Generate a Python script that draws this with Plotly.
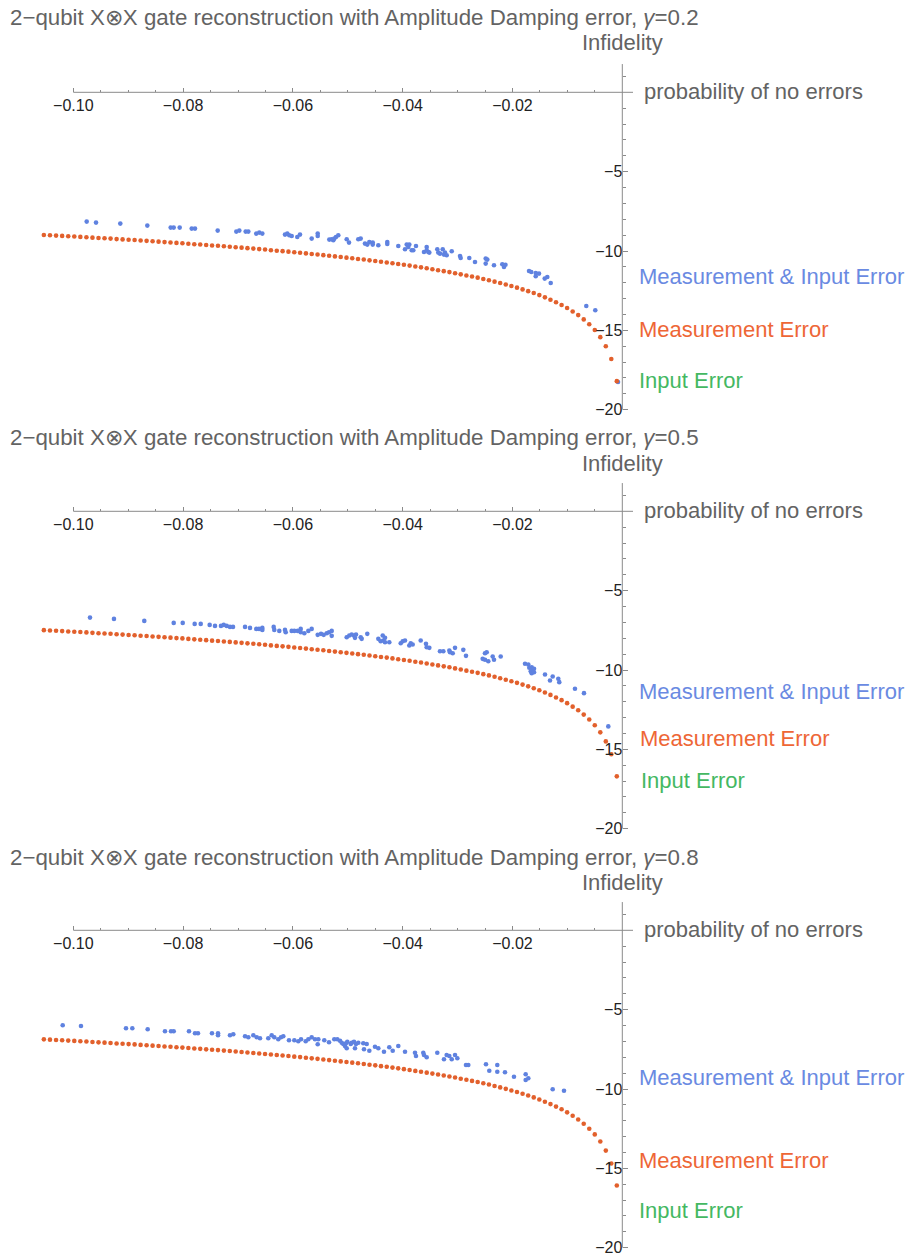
import numpy as np
import plotly.graph_objects as go

# ---------------- data ----------------
gammas = ["0.2", "0.5", "0.8"]

# probability of no errors (x axis shows its natural log)
p_no_error = [
    0.900, 0.901, 0.902, 0.903, 0.904, 0.905, 0.906, 0.907, 0.908, 0.909,
    0.910, 0.911, 0.912, 0.913, 0.914, 0.915, 0.916, 0.917, 0.918, 0.919,
    0.920, 0.921, 0.922, 0.923, 0.924, 0.925, 0.926, 0.927, 0.928, 0.929,
    0.930, 0.931, 0.932, 0.933, 0.934, 0.935, 0.936, 0.937, 0.938, 0.939,
    0.940, 0.941, 0.942, 0.943, 0.944, 0.945, 0.946, 0.947, 0.948, 0.949,
    0.950, 0.951, 0.952, 0.953, 0.954, 0.955, 0.956, 0.957, 0.958, 0.959,
    0.960, 0.961, 0.962, 0.963, 0.964, 0.965, 0.966, 0.967, 0.968, 0.969,
    0.970, 0.971, 0.972, 0.973, 0.974, 0.975, 0.976, 0.977, 0.978, 0.979,
    0.980, 0.981, 0.982, 0.983, 0.984, 0.985, 0.986, 0.987, 0.988, 0.989,
    0.990, 0.991, 0.992, 0.993, 0.994, 0.995, 0.996, 0.997, 0.998, 0.999,
]

# Measurement Error (orange) log-infidelity per gamma
meas_err_g02 = [
    -8.99, -9.01, -9.03, -9.05, -9.07, -9.09, -9.11, -9.13, -9.16, -9.18,
    -9.20, -9.22, -9.25, -9.27, -9.29, -9.31, -9.34, -9.36, -9.39, -9.41,
    -9.44, -9.46, -9.49, -9.51, -9.54, -9.57, -9.59, -9.62, -9.65, -9.67,
    -9.70, -9.73, -9.76, -9.79, -9.82, -9.85, -9.88, -9.91, -9.95, -9.98,
    -10.01, -10.04, -10.08, -10.11, -10.15, -10.19, -10.22, -10.26, -10.30, -10.34,
    -10.38, -10.42, -10.46, -10.50, -10.54, -10.59, -10.63, -10.68, -10.72, -10.77,
    -10.82, -10.87, -10.92, -10.98, -11.03, -11.09, -11.15, -11.21, -11.27, -11.33,
    -11.40, -11.47, -11.54, -11.61, -11.68, -11.76, -11.84, -11.93, -12.02, -12.11,
    -12.21, -12.31, -12.42, -12.53, -12.65, -12.78, -12.92, -13.07, -13.23, -13.40,
    -13.59, -13.81, -14.04, -14.31, -14.62, -14.98, -15.43, -16.00, -16.81, -18.20,
]
meas_err_g05 = [
    -7.49, -7.51, -7.53, -7.55, -7.57, -7.59, -7.61, -7.63, -7.66, -7.68,
    -7.70, -7.72, -7.75, -7.77, -7.79, -7.81, -7.84, -7.86, -7.89, -7.91,
    -7.94, -7.96, -7.99, -8.01, -8.04, -8.07, -8.09, -8.12, -8.15, -8.17,
    -8.20, -8.23, -8.26, -8.29, -8.32, -8.35, -8.38, -8.41, -8.45, -8.48,
    -8.51, -8.54, -8.58, -8.61, -8.65, -8.69, -8.72, -8.76, -8.80, -8.84,
    -8.88, -8.92, -8.96, -9.00, -9.04, -9.09, -9.13, -9.18, -9.22, -9.27,
    -9.32, -9.37, -9.42, -9.48, -9.53, -9.59, -9.65, -9.71, -9.77, -9.83,
    -9.90, -9.97, -10.04, -10.11, -10.18, -10.26, -10.34, -10.43, -10.52, -10.61,
    -10.71, -10.81, -10.92, -11.03, -11.15, -11.28, -11.42, -11.57, -11.73, -11.90,
    -12.09, -12.31, -12.54, -12.81, -13.12, -13.48, -13.93, -14.50, -15.31, -16.70,
]
meas_err_g08 = [
    -6.87, -6.89, -6.91, -6.93, -6.95, -6.97, -6.99, -7.01, -7.04, -7.06,
    -7.08, -7.10, -7.13, -7.15, -7.17, -7.19, -7.22, -7.24, -7.27, -7.29,
    -7.32, -7.34, -7.37, -7.39, -7.42, -7.45, -7.47, -7.50, -7.53, -7.55,
    -7.58, -7.61, -7.64, -7.67, -7.70, -7.73, -7.76, -7.79, -7.83, -7.86,
    -7.89, -7.92, -7.96, -7.99, -8.03, -8.07, -8.10, -8.14, -8.18, -8.22,
    -8.26, -8.30, -8.34, -8.38, -8.42, -8.47, -8.51, -8.56, -8.60, -8.65,
    -8.70, -8.75, -8.80, -8.86, -8.91, -8.97, -9.03, -9.09, -9.15, -9.21,
    -9.28, -9.35, -9.42, -9.49, -9.56, -9.64, -9.72, -9.81, -9.90, -9.99,
    -10.09, -10.19, -10.30, -10.41, -10.53, -10.66, -10.80, -10.95, -11.11, -11.28,
    -11.47, -11.69, -11.92, -12.19, -12.50, -12.86, -13.31, -13.88, -14.69, -16.08,
]

# Measurement & Input Error (blue): x = log(prob. of no errors), y = log-infidelity
mi_x_g02 = [
    -0.09756, -0.09586, -0.09144, -0.08652, -0.08226, -0.08171, -0.08062, -0.07843, -0.07783, -0.07370,
    -0.07031, -0.06976, -0.06860, -0.06812, -0.06667, -0.06612, -0.06557, -0.06144, -0.06102, -0.06066,
    -0.06022, -0.05920, -0.05871, -0.05658, -0.05548, -0.05548, -0.05337, -0.05293, -0.05264, -0.05246,
    -0.05215, -0.05173, -0.05020, -0.04978, -0.04809, -0.04765, -0.04687, -0.04645, -0.04608, -0.04546,
    -0.04546, -0.04444, -0.04281, -0.04281, -0.04080, -0.03958, -0.03927, -0.03898, -0.03880, -0.03836,
    -0.03807, -0.03758, -0.03612, -0.03563, -0.03563, -0.03534, -0.03515, -0.03370, -0.03352, -0.03321,
    -0.03271, -0.03248, -0.03230, -0.03199, -0.03107, -0.02956, -0.02944, -0.02787, -0.02683, -0.02488,
    -0.02459, -0.02488, -0.02337, -0.02186, -0.02155, -0.02128, -0.01699, -0.01658, -0.01577, -0.01577,
    -0.01517, -0.01413, -0.01366, -0.01304, -0.00656, -0.00492, -0.00078,
]
mi_y_g02 = [
    -8.147, -8.211, -8.273, -8.400, -8.526, -8.526, -8.526, -8.589, -8.589, -8.715,
    -8.778, -8.715, -8.778, -8.778, -8.904, -8.841, -8.904, -8.967, -8.904, -9.011,
    -9.055, -9.118, -8.967, -9.219, -8.904, -9.055, -9.282, -9.263, -9.326, -9.219,
    -9.118, -9.011, -9.263, -9.471, -9.263, -9.219, -9.534, -9.597, -9.433, -9.471,
    -9.597, -9.641, -9.433, -9.559, -9.685, -9.893, -9.597, -9.748, -9.597, -9.956,
    -9.956, -9.685, -10.063, -9.748, -9.956, -10.063, -10.101, -9.893, -10.101, -10.164,
    -9.893, -10.227, -10.101, -10.271, -10.019, -10.315, -10.441, -10.441, -10.693, -10.479,
    -10.542, -10.794, -10.901, -10.838, -11.008, -10.870, -11.260, -11.323, -11.386, -11.594,
    -11.424, -11.739, -11.638, -12.017, -13.466, -13.737, -18.255,
]
mi_x_g05 = [
    -0.09696, -0.09259, -0.08707, -0.08171, -0.08007, -0.07789, -0.07679, -0.07516, -0.07419, -0.07310,
    -0.07260, -0.07206, -0.07146, -0.07091, -0.06872, -0.06781, -0.06667, -0.06617, -0.06557, -0.06557,
    -0.06350, -0.06339, -0.06248, -0.06144, -0.06131, -0.06022, -0.05974, -0.05913, -0.05858, -0.05858,
    -0.05792, -0.05719, -0.05658, -0.05548, -0.05488, -0.05439, -0.05384, -0.05342, -0.05293, -0.05293,
    -0.05020, -0.04973, -0.04929, -0.04887, -0.04851, -0.04869, -0.04765, -0.04747, -0.04645, -0.04444,
    -0.04401, -0.04364, -0.04353, -0.04322, -0.04322, -0.04244, -0.04036, -0.04000, -0.03958, -0.03880,
    -0.03854, -0.03818, -0.03672, -0.03576, -0.03563, -0.03515, -0.03321, -0.03260, -0.03151, -0.03138,
    -0.03089, -0.03047, -0.02896, -0.02847, -0.02501, -0.02470, -0.02543, -0.02501, -0.02441, -0.02361,
    -0.02337, -0.02215, -0.01772, -0.01712, -0.01694, -0.01650, -0.01668, -0.01632, -0.01608, -0.01608,
    -0.01650, -0.01408, -0.01317, -0.01268, -0.01166, -0.01148, -0.00862, -0.00698, -0.00255,
]
mi_y_g05 = [
    -6.698, -6.780, -6.906, -7.031, -7.031, -7.094, -7.094, -7.157, -7.220, -7.220,
    -7.157, -7.220, -7.283, -7.283, -7.283, -7.346, -7.409, -7.409, -7.346, -7.472,
    -7.283, -7.472, -7.535, -7.472, -7.623, -7.535, -7.535, -7.535, -7.409, -7.623,
    -7.686, -7.535, -7.409, -7.786, -7.723, -7.786, -7.686, -7.623, -7.535, -7.849,
    -7.937, -7.830, -7.767, -7.830, -7.767, -7.975, -7.937, -8.038, -7.723, -8.038,
    -8.189, -7.830, -8.145, -7.975, -8.252, -8.252, -8.314, -8.189, -8.145, -8.459,
    -8.314, -8.396, -8.145, -8.352, -8.566, -8.604, -8.818, -8.818, -8.774, -8.881,
    -8.943, -8.604, -8.730, -9.107, -8.943, -8.881, -9.296, -9.358, -9.447, -9.151,
    -9.358, -9.151, -9.610, -9.654, -9.862, -9.824, -10.075, -9.987, -9.925, -10.138,
    -10.201, -10.283, -10.660, -10.409, -10.553, -10.767, -11.182, -11.459, -13.553,
]
mi_x_g08 = [
    -0.10193, -0.09860, -0.09040, -0.08925, -0.08645, -0.08330, -0.08220, -0.08171, -0.07893, -0.07783,
    -0.07729, -0.07474, -0.07364, -0.07364, -0.07146, -0.07086, -0.06872, -0.06812, -0.06721, -0.06659,
    -0.06599, -0.06448, -0.06386, -0.06339, -0.06266, -0.06217, -0.06175, -0.06071, -0.05974, -0.05902,
    -0.05852, -0.05767, -0.05719, -0.05658, -0.05597, -0.05548, -0.05537, -0.05428, -0.05342, -0.05246,
    -0.05191, -0.05142, -0.05111, -0.05082, -0.05051, -0.05033, -0.05009, -0.05020, -0.04947, -0.04929,
    -0.04887, -0.04851, -0.04869, -0.04809, -0.04718, -0.04656, -0.04705, -0.04608, -0.04505, -0.04444,
    -0.04341, -0.04244, -0.04182, -0.04080, -0.03958, -0.03776, -0.03758, -0.03625, -0.03612, -0.03563,
    -0.03370, -0.03248, -0.03199, -0.03151, -0.03107, -0.03047, -0.03005, -0.02847, -0.02805, -0.02483,
    -0.02423, -0.02277, -0.02277, -0.02137, -0.01973, -0.01760, -0.01760, -0.01712, -0.01268, -0.01062,
]
mi_y_g08 = [
    -5.986, -6.030, -6.175, -6.175, -6.238, -6.364, -6.364, -6.364, -6.364, -6.490,
    -6.490, -6.490, -6.490, -6.616, -6.616, -6.553, -6.679, -6.742, -6.616, -6.742,
    -6.805, -6.805, -6.616, -6.742, -6.868, -6.742, -6.679, -6.931, -6.931, -6.994,
    -6.868, -6.994, -6.868, -6.742, -6.868, -7.183, -6.868, -6.931, -7.057, -6.868,
    -6.868, -6.957, -7.083, -7.164, -7.290, -7.120, -7.020, -7.435, -7.164, -7.083,
    -7.020, -7.164, -7.435, -7.083, -7.120, -7.164, -7.498, -7.587, -7.335, -7.435,
    -7.650, -7.372, -7.587, -7.290, -7.650, -7.713, -7.921, -7.713, -7.858, -8.003,
    -7.713, -8.129, -7.858, -7.921, -8.129, -7.858, -8.066, -8.488, -8.488, -8.444,
    -8.847, -8.488, -8.910, -8.948, -9.225, -9.074, -9.433, -9.326, -10.019, -10.107,
]

x_tick_vals = [-0.10, -0.08, -0.06, -0.04, -0.02]
x_tick_text = ["\u22120.10", "\u22120.08", "\u22120.06", "\u22120.04", "\u22120.02"]
x_minor_vals = [-0.095, -0.09, -0.085, -0.075, -0.07, -0.065, -0.055, -0.05, -0.045,
                -0.035, -0.03, -0.025, -0.015, -0.01, -0.005]
y_tick_vals = [-5, -10, -15, -20]
y_tick_text = ["\u22125", "\u221210", "\u221215", "\u221220"]
y_minor_vals = [1, -1, -2, -3, -4, -6, -7, -8, -9, -11, -12, -13, -14, -16, -17, -18, -19]

meas_err = [meas_err_g02, meas_err_g05, meas_err_g08]
mi_x = [mi_x_g02, mi_x_g05, mi_x_g08]
mi_y = [mi_y_g02, mi_y_g05, mi_y_g08]

legend_labels = ["Measurement &amp; Input Error", "Measurement Error", "Input Error"]

# ---------------- layout / styling ----------------
W, H = 908, 1259
PX0 = 622.3          # pixel column of x = 0
SX = 5490.0          # pixels per x unit
SY = 15.87           # pixels per y unit
ZERO_PY = [92.3, 511.3, 930.3]   # pixel row of y = 0 per panel
TOP_PAD, BOT_PAD = 40, 328

BLUE = "#5f82e0"
ORANGE = "#e2602c"
BLUE_TXT = "#6a8ae2"
ORANGE_TXT = "#ee6636"
GREEN_TXT = "#44b862"
GRAY = "#636363"
AXIS_GRAY = "#8a8a8a"
FONT = "Liberation Sans, Arial, Helvetica, sans-serif"

title_py = [17, 437, 857]
infid_py = [43, 463, 882]
legend_pos = [
    [(636.7, 276.7), (636.7, 330), (637.3, 381)],
    [(636.7, 691.7), (637.7, 738.3), (639.3, 780.7)],
    [(636.7, 1077.3), (636.7, 1160), (636.7, 1210.7)],
]
legend_cols = [BLUE_TXT, ORANGE_TXT, GREEN_TXT]

x_log = np.log(np.array(p_no_error))

fig = go.Figure()
layout = dict(
    width=W, height=H,
    margin=dict(l=0, r=0, t=0, b=0),
    paper_bgcolor="white", plot_bgcolor="rgba(0,0,0,0)",
    showlegend=False,
    hovermode=False,
    font=dict(family=FONT),
)
annotations = []
shapes = []

x_range = [(0 - PX0) / SX, (W - PX0) / SX]
y_range = [-BOT_PAD / SY, TOP_PAD / SY]

for i in range(3):
    sfx = "" if i == 0 else str(i + 1)
    xa, ya = "x" + sfx, "y" + sfx
    z = ZERO_PY[i]
    dom_top = 1 - (z - TOP_PAD) / H
    dom_bot = max(0.0, 1 - (z + BOT_PAD) / H)

    layout["xaxis" + sfx] = dict(
        domain=[0, 1], range=x_range, anchor="free", position=1 - z / H,
        showgrid=False, zeroline=False, showline=False, side="bottom",
        tickmode="array", tickvals=x_tick_vals, ticktext=x_tick_text,
        ticks="inside", ticklen=4.5, tickwidth=1, tickcolor=AXIS_GRAY,
        ticklabelstandoff=2,
        tickfont=dict(size=16, color="#222222", family=FONT),
        minor=dict(tickmode="array", tickvals=x_minor_vals, ticks="inside",
                   ticklen=2.5, tickwidth=1, tickcolor=AXIS_GRAY),
        fixedrange=True,
    )
    layout["yaxis" + sfx] = dict(
        domain=[dom_bot, dom_top], range=y_range, anchor="free", position=PX0 / W,
        showgrid=False, zeroline=False, showline=False, side="left",
        tickmode="array", tickvals=y_tick_vals, ticktext=y_tick_text,
        ticks="inside", ticklen=4.5, tickwidth=1, tickcolor=AXIS_GRAY,
        tickfont=dict(size=16, color="#222222", family=FONT),
        minor=dict(tickmode="array", tickvals=y_minor_vals, ticks="inside",
                   ticklen=2.5, tickwidth=1, tickcolor=AXIS_GRAY),
        fixedrange=True,
    )

    # axis lines
    shapes.append(dict(type="line", xref=xa, yref=ya, x0=-0.10, x1=0.00195, y0=0, y1=0,
                       line=dict(color=AXIS_GRAY, width=1)))
    shapes.append(dict(type="line", xref=xa, yref=ya, x0=0, x1=0, y0=1.78, y1=-20,
                       line=dict(color=AXIS_GRAY, width=1)))

    fig.add_trace(go.Scatter(
        x=mi_x[i], y=mi_y[i], mode="markers", xaxis=xa, yaxis=ya,
        marker=dict(size=4.6, color=BLUE, line=dict(width=0)),
        name="Measurement & Input Error", cliponaxis=False,
    ))
    fig.add_trace(go.Scatter(
        x=x_log, y=meas_err[i], mode="markers", xaxis=xa, yaxis=ya,
        marker=dict(size=4.6, color=ORANGE, line=dict(width=0)),
        name="Measurement Error", cliponaxis=False,
    ))

    # texts
    annotations.append(dict(
        xref="paper", yref="paper", x=8 / W, y=1 - title_py[i] / H,
        xanchor="left", yanchor="middle", showarrow=False,
        text="2\u2212qubit X\u2297X gate reconstruction with Amplitude Damping error, <i>\u03b3</i>=" + gammas[i],
        font=dict(size=22.3, color=GRAY, family=FONT),
    ))
    annotations.append(dict(
        xref="paper", yref="paper", x=PX0 / W, y=1 - infid_py[i] / H,
        xanchor="center", yanchor="middle", showarrow=False, text="Infidelity",
        font=dict(size=22, color=GRAY, family=FONT),
    ))
    annotations.append(dict(
        xref="paper", yref="paper", x=642 / W, y=1 - (z - 0.5) / H,
        xanchor="left", yanchor="middle", showarrow=False, text="probability of no errors",
        font=dict(size=22, color=GRAY, family=FONT),
    ))
    for j in range(3):
        lx, ly = legend_pos[i][j]
        annotations.append(dict(
            xref="paper", yref="paper", x=lx / W, y=1 - ly / H,
            xanchor="left", yanchor="middle", showarrow=False, text=legend_labels[j],
            font=dict(size=22, color=legend_cols[j], family=FONT),
        ))

layout["annotations"] = annotations
layout["shapes"] = shapes
fig.update_layout(**layout)
fig.write_html(
    "out.html",
    config={"displayModeBar": False, "staticPlot": True},
    post_script="document.body.style.margin='0px';document.body.style.overflow='hidden';",
)
